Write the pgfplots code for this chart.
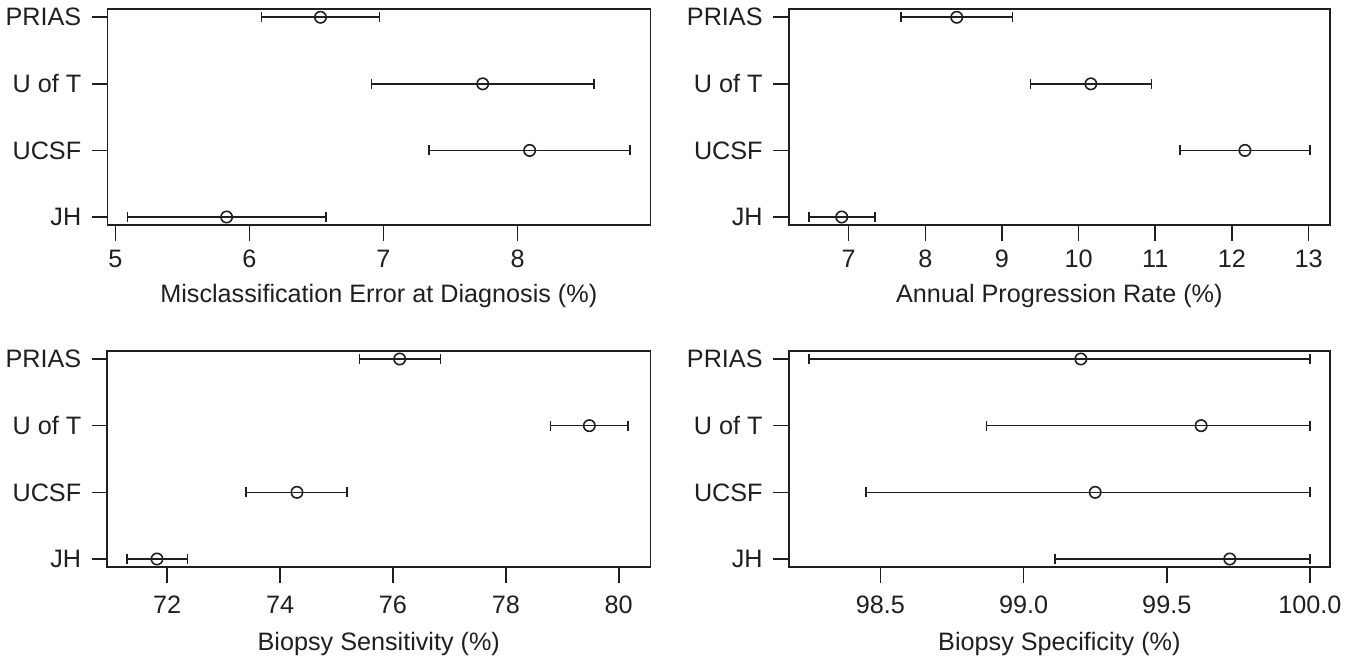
\documentclass[border=0pt]{standalone}
\usepackage{fontspec}
\setmainfont{Liberation Sans}
\usepackage{pgfplots}
\usepackage{pgfplotstable}
\pgfplotsset{compat=1.18}
\definecolor{ink}{HTML}{1F1F1F}

% y: 1=JH 2=UCSF 3=U of T 4=PRIAS ; x = estimate, lo/hi = interval
\pgfplotstableread{
y x lo hi
4 6.53 6.09 6.97
3 7.74 6.91 8.57
2 8.09 7.34 8.84
1 5.83 5.09 6.57
}\misclass
\pgfplotstableread{
y x lo hi
4 8.41 7.68 9.14
3 10.16 9.37 10.95
2 12.17 11.32 13.02
1 6.91 6.48 7.34
}\progress
\pgfplotstableread{
y x lo hi
4 76.12 75.41 76.84
3 79.48 78.79 80.17
2 74.30 73.40 75.19
1 71.82 71.29 72.36
}\sens
\pgfplotstableread{
y x lo hi
4 99.20 98.25 100.00
3 99.62 98.87 100.00
2 99.25 98.45 100.00
1 99.72 99.11 100.00
}\spec

\pgfplotsset{
  forest/.style={
    scale only axis, anchor=north west, clip=false,
    ymin=0.88, ymax=4.12,
    ytick={1,2,3,4}, yticklabels={JH,UCSF,U of T,PRIAS},
    tick align=outside, tickpos=left,
    major tick length=7.85pt,
    axis line style={line width=0.8pt, ink},
    every tick/.style={line width=0.8pt, ink},
    tick label style={font=\fontsize{12.6}{14}\selectfont, text=ink, inner sep=0pt},
    yticklabel shift=5pt,
    xlabel style={font=\fontsize{12.6}{14}\selectfont, text=ink, inner sep=0pt,
      at={(axis description cs:0.5,0)}, anchor=north},
    /pgf/number format/assume math mode=true,
  },
  ci/.style={ink, line width=0.8pt, only marks, mark=o, mark size=2.85pt,
    mark options={line width=0.8pt, ink},
    error bars/.cd, x dir=both, x explicit,
    error bar style={line width=0.8pt, ink},
    error mark options={ink, line width=0.8pt, mark size=2.5pt, rotate=90}},
}

\newcommand{\ciplot}[1]{%
  \addplot[ci] table[x=x, y=y,
    x error plus expr=\thisrow{hi}-\thisrow{x},
    x error minus expr=\thisrow{x}-\thisrow{lo}] {#1};}

\begin{document}
\begin{tikzpicture}
\begin{axis}[forest, at={(53.65pt,-4.65pt)}, width=271.5pt, height=107.85pt,
  xmin=4.94, xmax=8.99, xtick={5,6,7,8},
  xticklabel shift=4.6pt, xlabel style={yshift=-29.6pt},
  xlabel={Misclassification Error at Diagnosis (\%)}]
\ciplot{\misclass}
\end{axis}
\begin{axis}[forest, at={(394.35pt,-4.65pt)}, width=270.65pt, height=107.85pt,
  xmin=6.218, xmax=13.28, xtick={7,8,9,10,11,12,13},
  xticklabel shift=4.6pt, xlabel style={yshift=-29.6pt},
  xlabel={Annual Progression Rate (\%)}]
\ciplot{\progress}
\end{axis}
\begin{axis}[forest, at={(53.65pt,-175.5pt)}, width=271.5pt, height=108pt,
  xmin=70.94, xmax=80.56, xtick={72,74,76,78,80},
  xticklabel shift=6.6pt, xlabel style={yshift=-32.2pt},
  xlabel={Biopsy Sensitivity (\%)}]
\ciplot{\sens}
\end{axis}
\begin{axis}[forest, at={(394.35pt,-175.5pt)}, width=270.65pt, height=108pt,
  xmin=98.18, xmax=100.07, xtick={98.5,99,99.5,100},
  xticklabel style={/pgf/number format/.cd, fixed, fixed zerofill, precision=1},
  xticklabel shift=6.6pt, xlabel style={yshift=-32.2pt},
  xlabel={Biopsy Specificity (\%)}]
\ciplot{\spec}
\end{axis}
\pgfresetboundingbox
\path (0,0) rectangle (677pt,-328pt);
\end{tikzpicture}
\end{document}
